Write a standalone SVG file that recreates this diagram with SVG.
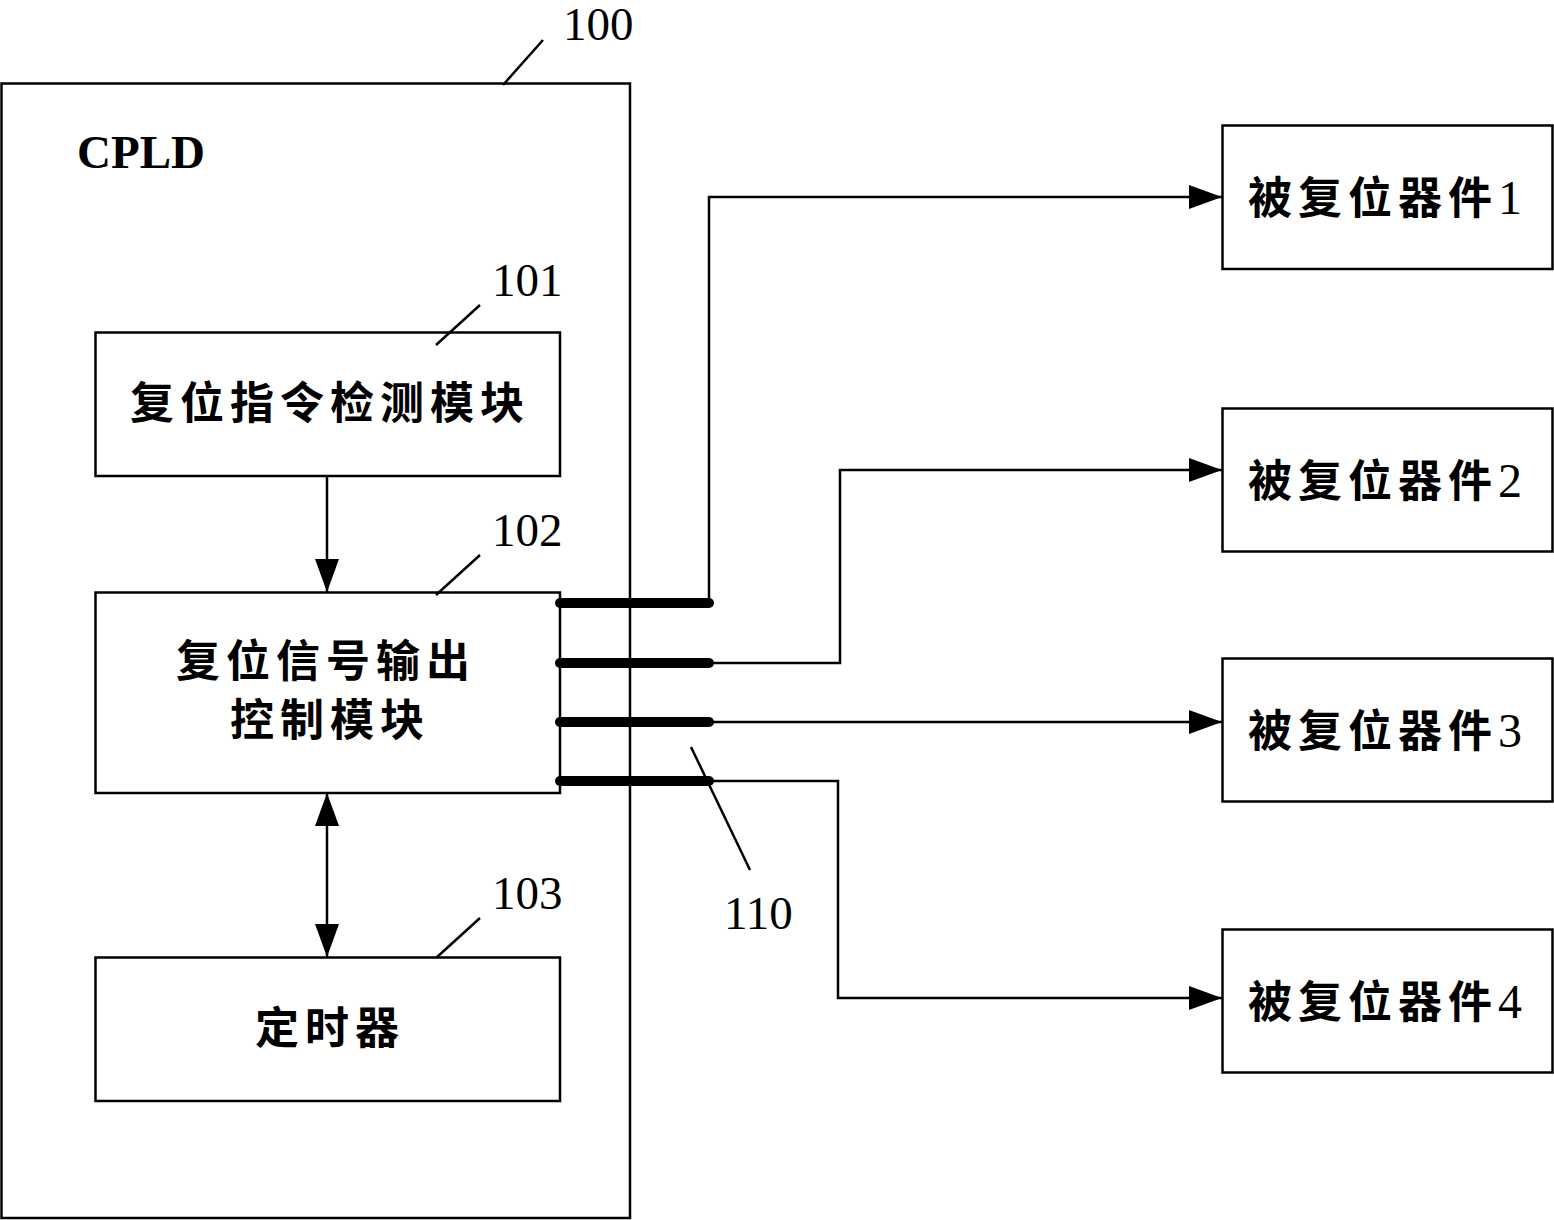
<svg xmlns="http://www.w3.org/2000/svg" width="1554" height="1220" viewBox="0 0 1554 1220">
<style>
.box{fill:#fff;stroke:#000;stroke-width:2.5}
.ln{fill:none;stroke:#000;stroke-width:2.5}
.bus{fill:none;stroke:#000;stroke-width:10;stroke-linecap:round}
.num{font-family:"Liberation Serif",serif;font-size:47px;fill:#000}
.cjk{font-family:"Noto Sans CJK SC",sans-serif;font-size:44px;font-weight:bold;fill:#000;letter-spacing:6px}
.dig{font-family:"Liberation Serif",serif;font-size:48px;font-weight:normal;letter-spacing:0}
</style>
<defs>
<marker id="ah" markerUnits="userSpaceOnUse" markerWidth="34" markerHeight="24" refX="33" refY="12" orient="auto-start-reverse">
<path d="M0,0 L33,12 L0,24 Z" fill="#000"/>
</marker>
</defs>
<g id="n100">
<rect class="box" x="1.5" y="83.5" width="628.5" height="1134.5"/>
<text class="num" x="77" y="168" font-weight="bold">CPLD</text>
<line class="ln" x1="503" y1="85" x2="543" y2="40"/>
<text class="num" x="563" y="40" font-size="44">100</text>
</g>
<g id="n101">
<rect class="box" x="95.5" y="332.5" width="464.5" height="143.5"/>
<text class="cjk" x="330" y="419" text-anchor="middle">复位指令检测模块</text>
<line class="ln" x1="436" y1="345" x2="480" y2="305"/>
<text class="num" x="492" y="296">101</text>
</g>
<g id="n102">
<rect class="box" x="95.5" y="592.5" width="464.5" height="200.5"/>
<text class="cjk" x="326" y="677" text-anchor="middle">复位信号输出</text>
<text class="cjk" x="330" y="736" text-anchor="middle">控制模块</text>
<line class="ln" x1="436" y1="595" x2="480" y2="555"/>
<text class="num" x="492" y="546">102</text>
</g>
<g id="n103">
<rect class="box" x="95.5" y="957.5" width="464.5" height="143.5"/>
<text class="cjk" x="330" y="1044" text-anchor="middle">定时器</text>
<line class="ln" x1="436" y1="958" x2="480" y2="918"/>
<text class="num" x="492" y="909">103</text>
</g>
<g id="d1">
<rect class="box" x="1222.5" y="125.5" width="330" height="143.5"/>
<text class="cjk" x="1248" y="214">被复位器件<tspan class="dig">1</tspan></text>
</g>
<g id="d2">
<rect class="box" x="1222.5" y="408.5" width="330" height="143"/>
<text class="cjk" x="1248" y="497">被复位器件<tspan class="dig">2</tspan></text>
</g>
<g id="d3">
<rect class="box" x="1222.5" y="658.5" width="330" height="143"/>
<text class="cjk" x="1248" y="747">被复位器件<tspan class="dig">3</tspan></text>
</g>
<g id="d4">
<rect class="box" x="1222.5" y="929.5" width="330" height="143"/>
<text class="cjk" x="1248" y="1018">被复位器件<tspan class="dig">4</tspan></text>
</g>
<g id="connectors">
<line class="ln" x1="327" y1="476" x2="327" y2="592" marker-end="url(#ah)"/>
<line class="ln" x1="327" y1="793" x2="327" y2="957" marker-start="url(#ah)" marker-end="url(#ah)"/>
<polyline class="ln" points="709,604 709,197 1222,197" marker-end="url(#ah)"/>
<polyline class="ln" points="710,663 840,663 840,470 1222,470" marker-end="url(#ah)"/>
<line class="ln" x1="710" y1="722" x2="1222" y2="722" marker-end="url(#ah)"/>
<polyline class="ln" points="710,781 838,781 838,998 1222,998" marker-end="url(#ah)"/>
<line class="bus" x1="560" y1="603" x2="709" y2="603"/>
<line class="bus" x1="560" y1="663" x2="709" y2="663"/>
<line class="bus" x1="560" y1="722" x2="709" y2="722"/>
<line class="bus" x1="560" y1="781" x2="709" y2="781"/>
<line class="ln" x1="691" y1="747" x2="750" y2="870"/>
<text class="num" x="724" y="929">110</text>
</g>
</svg>
